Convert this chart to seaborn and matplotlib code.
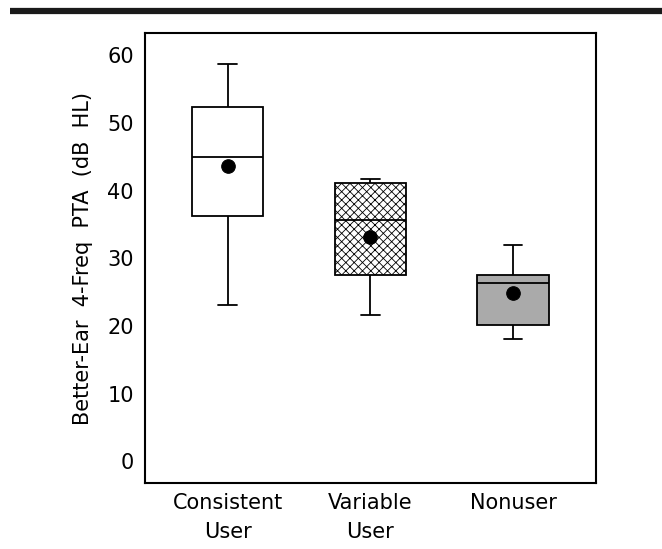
import pandas as pd
import matplotlib.pyplot as plt
import matplotlib.lines as mlines
import seaborn as sns

# 三组的五数概括（下须、Q1、中位数、Q3、上须）与均值，读自原图
groups = ['Consistent\nUser', 'Variable\nUser', 'Nonuser']
whisker_low = [23.1, 21.6, 18.1]
q1 = [36.3, 27.5, 20.1]
median = [45.0, 35.6, 26.3]
q3 = [52.4, 41.2, 27.5]
whisker_high = [58.7, 41.7, 32.0]
means = [43.6, 33.1, 24.9]

# 整理成长表，交给 seaborn 画箱线图
rows = []
for i, g in enumerate(groups):
    for v in [whisker_low[i], q1[i], median[i], q3[i], whisker_high[i]]:
        rows.append({'group': g, 'pta': v})
data = pd.DataFrame(rows)
mean_df = pd.DataFrame({'group': groups, 'pta': means})

sns.set_theme(style="white")
plt.rcParams['font.family'] = ['DejaVu Sans']
plt.rcParams['hatch.linewidth'] = 0.6
plt.rcParams['hatch.color'] = '#222222'

fig = plt.figure(figsize=(6.62, 5.49), dpi=100)
ax = fig.add_axes([0.219, 0.120, 0.681, 0.820])

line_kw = dict(color='black', linewidth=1.3)
sns.boxplot(data=data, x='group', y='pta', order=groups, whis=(0, 100),
            width=0.5, linewidth=1.3, linecolor='black', fill=True,
            color='white', ax=ax,
            boxprops=dict(edgecolor='black'),
            medianprops=line_kw, whiskerprops=line_kw, capprops=line_kw)

# 第二组交叉线，第三组灰色
boxes = [p for p in ax.patches]
boxes[1].set_hatch('xxxx')
boxes[1].set_facecolor('white')
boxes[2].set_facecolor('#aaaaaa')
for b in boxes:
    b.set_edgecolor('black')

# 均值黑点
sns.scatterplot(data=mean_df, x='group', y='pta', color='black', s=95,
                edgecolor='black', zorder=5, ax=ax, legend=False)

# 须端横线宽度
for ln in ax.lines:
    xd = ln.get_xdata()
    if len(xd) == 2 and xd[0] != xd[1]:
        c = (xd[0] + xd[1]) / 2
        if abs(xd[1] - xd[0]) < 0.3:
            ln.set_xdata([c - 0.065, c + 0.065])

ax.set_xlim(-0.58, 2.58)
ax.set_ylim(-3.2, 63.3)
ax.set_yticks([0, 10, 20, 30, 40, 50, 60])
ax.set_xlabel('')
ax.set_ylabel('Better-Ear  4-Freq  PTA  (dB  HL)', fontsize=15, labelpad=10,
              color='black')
ax.tick_params(axis='both', length=0, labelsize=15, colors='black')
ax.tick_params(axis='y', pad=8)
ax.tick_params(axis='x', pad=7)
for lab in ax.get_xticklabels():
    lab.set_linespacing(1.55)
    lab.set_verticalalignment('top')
for s in ax.spines.values():
    s.set_color('black')
    s.set_linewidth(1.5)

# 顶部粗黑线
fig.add_artist(mlines.Line2D([0.015, 1.0], [0.980, 0.980], color='#1a1a1a',
                             linewidth=4.5, solid_capstyle='butt',
                             transform=fig.transFigure))

fig.savefig('out.png', dpi=100)
